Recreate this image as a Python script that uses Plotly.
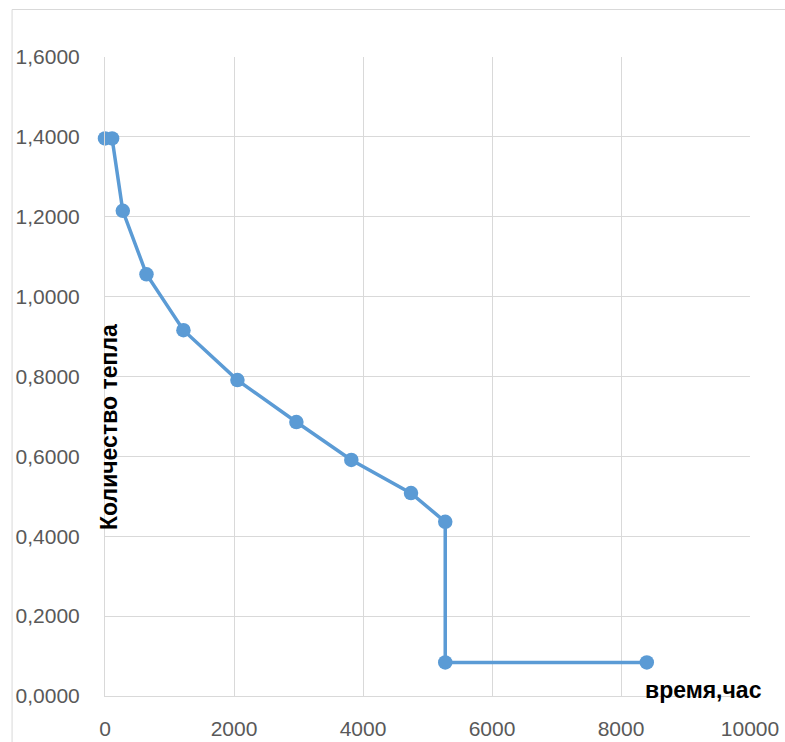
import plotly.graph_objects as go

hours = [0, 110, 276, 643, 1216, 2053, 2967, 3819, 4744, 5275, 5275, 8400]
heat = [1.396, 1.396, 1.215, 1.056, 0.916, 0.791, 0.686, 0.591, 0.508, 0.436, 0.084, 0.084]

x_ticks = [0, 2000, 4000, 6000, 8000, 10000]
y_ticks = [0, 0.2, 0.4, 0.6, 0.8, 1.0, 1.2, 1.4, 1.6]

x_title = "время,час"
y_title = "Количество тепла"

W, H = 785, 742
L, R, T, B = 104.5, 35, 57, 46
pw, ph = W - L - R, H - T - B

fig = go.Figure()
fig.add_trace(go.Scatter(
    x=hours, y=heat, mode="lines+markers",
    line=dict(color="#5b9bd5", width=3.5),
    marker=dict(color="#5b9bd5", size=14.5),
    showlegend=False, cliponaxis=False,
))

grid = "#d9d9d9"
tickfont = dict(family="Liberation Sans, Arial", size=21, color="#595959")
fig.update_xaxes(range=[0, 10000], tickvals=x_ticks, tickformat="d", automargin=False,
                 showgrid=True, gridcolor=grid, gridwidth=1,
                 showline=True, linecolor=grid, linewidth=1,
                 zeroline=False, ticks="outside", ticklen=14, tickcolor="rgba(0,0,0,0)",
                 tickfont=tickfont)
fig.update_yaxes(range=[0, 1.6], tickvals=y_ticks, tickformat=".4f", automargin=False,
                 showgrid=True, gridcolor=grid, gridwidth=1,
                 showline=True, linecolor=grid, linewidth=1,
                 zeroline=False, ticks="outside", ticklen=20, tickcolor="rgba(0,0,0,0)",
                 tickfont=tickfont)

titlefont = dict(family="Liberation Sans, Arial", size=23, color="black", weight="bold")
fig.add_annotation(text=y_title, xref="paper", yref="paper",
                   x=(108 - L) / pw, y=(H - B - 426.5) / ph, textangle=-90,
                   showarrow=False, xanchor="center", yanchor="middle", font=titlefont)
fig.add_annotation(text=x_title, xref="paper", yref="paper",
                   x=(703 - L) / pw, y=(H - B - 690) / ph,
                   showarrow=False, xanchor="center", yanchor="middle", font=titlefont)

fig.add_shape(type="rect", xref="paper", yref="paper",
              x0=(11.5 - L) / pw, x1=(W + 20 - L) / pw,
              y0=(H - B - (H + 20)) / ph, y1=(H - B - 9.5) / ph,
              line=dict(color=grid, width=1), fillcolor="rgba(0,0,0,0)", layer="below")

fig.update_layout(
    width=W, height=H,
    margin=dict(l=L, r=R, t=T, b=B, pad=0),
    separators=", ",
    paper_bgcolor="white", plot_bgcolor="white",
    font=dict(family="Liberation Sans, Arial"),
)

fig.write_html("out.html", config={"displayModeBar": False},
               post_script="document.body.style.margin='0';document.body.style.overflow='hidden';")
